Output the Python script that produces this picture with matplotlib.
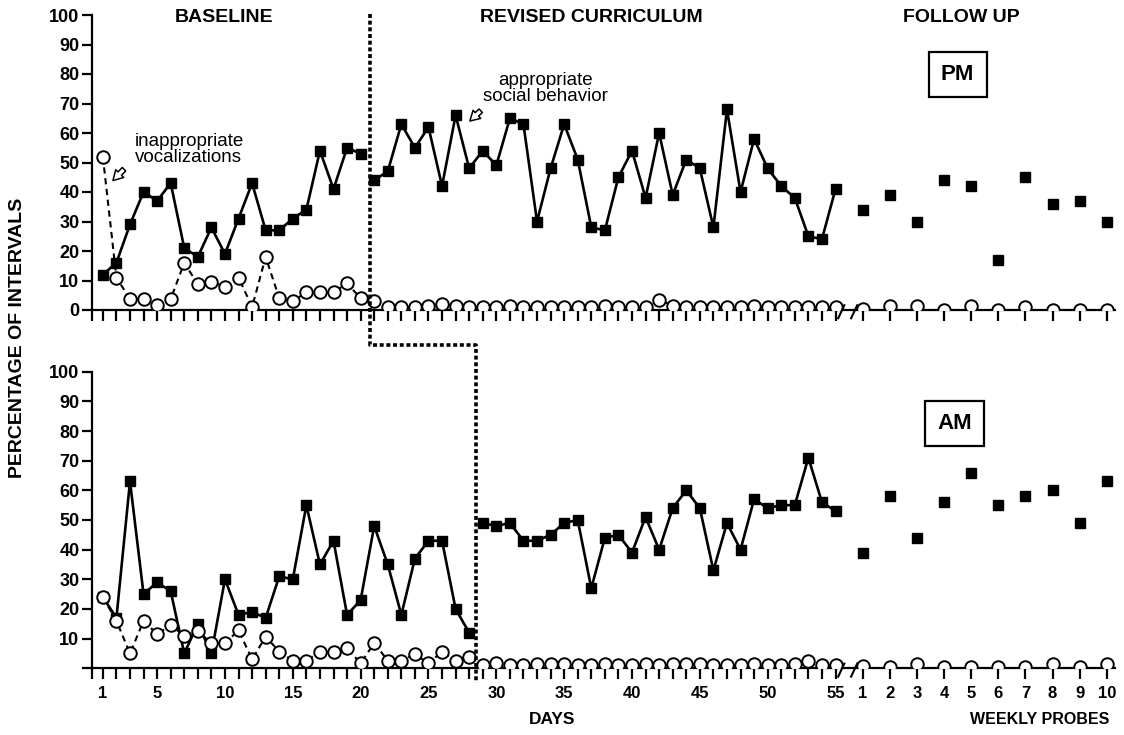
import matplotlib
matplotlib.use('Agg')
import matplotlib.pyplot as plt
from matplotlib import font_manager
from matplotlib.lines import Line2D

# ---------------- data ----------------
days = list(range(1, 56))
probes = list(range(1, 11))
pm_baseline_days = 20
am_baseline_days = 28

pm_social = [12, 16, 29, 40, 37, 43, 21, 18, 28, 19, 31, 43, 27, 27, 31, 34, 54, 41, 55, 53,
             44, 47, 63, 55, 62, 42, 66, 48, 54, 49, 65, 63, 30, 48, 63, 51, 28, 27, 45, 54,
             38, 60, 39, 51, 48, 28, 68, 40, 58, 48, 42, 38, 25, 24, 41]
pm_vocal = [52, 11, 3.7, 3.7, 1.7, 3.7, 16, 8.7, 9.6, 7.9, 11, 1, 18, 4, 3, 6, 6, 6, 9, 4,
            3, 1, 1, 1, 1.3, 2, 1.3, 1, 1, 1, 1.3, 1, 1, 1, 1, 1, 1, 1.3, 1, 1,
            1, 3.5, 1.5, 1, 1, 1, 1, 1, 1.3, 1, 1, 1, 1, 1, 1]
pm_probe_social = [34, 39, 30, 44, 42, 17, 45, 36, 37, 30]
pm_probe_vocal = [0.5, 1.2, 1.2, 0, 1.2, 0, 1, 0, 0, 0]

am_social = [24, 17, 63, 25, 29, 26, 5, 15, 5, 30, 18, 19, 17, 31, 30, 55, 35, 43, 18, 23,
             48, 35, 18, 37, 43, 43, 20, 12,
             49, 48, 49, 43, 43, 45, 49, 50, 27, 44, 45, 39, 51, 40, 54, 60, 54, 33, 49, 40,
             57, 54, 55, 55, 71, 56, 53]
am_vocal = [24, 16, 5, 16, 11.5, 14.5, 11, 12.5, 8.5, 8.5, 12.8, 3, 10.7, 5.6, 2.6, 2.6, 5.6, 5.6,
            6.7, 1.7, 8.5, 2.6, 2.6, 4.7, 1.7, 5.6, 2.6, 3.9,
            1, 1.8, 1, 1, 1.3, 1.3, 1.3, 1, 1, 1.3, 1, 1, 1.3, 1, 1.3, 1.3, 1.5, 1, 1, 1,
            1.3, 1, 1, 1.3, 2.5, 1, 1]
am_probe_social = [39, 58, 44, 56, 66, 55, 58, 60, 49, 63]
am_probe_vocal = [0.7, 0.3, 1.4, 0.3, 0.3, 0.3, 0.3, 1.3, 0.3, 1.4]

y_ticks = list(range(0, 101, 10))
day_labels = [1, 5, 10, 15, 20, 25, 30, 35, 40, 45, 50, 55]
phase_titles = ["BASELINE", "REVISED CURRICULUM", "FOLLOW UP"]

# ---------------- fonts ----------------
names = {f.name for f in font_manager.fontManager.ttflist}
BASE = 'Liberation Sans'
NARROW = 'Liberation Sans Narrow' if 'Liberation Sans Narrow' in names else BASE
plt.rcParams['font.family'] = [BASE, 'DejaVu Sans']

W, H = 1124, 735
fig = plt.figure(figsize=(W / 100, H / 100), dpi=100)

def fx(px):
    return px / W

def fy(py):
    return 1 - py / H

left, right = fx(92), fx(1115)
ax_top = fig.add_axes([left, fy(310), right - left, fy(15) - fy(310)])
ax_bot = fig.add_axes([left, fy(668.3), right - left, fy(371.7) - fy(668.3)])

probe_x = [55 + 2 * p for p in probes]
XMIN, XMAX = 0.2, 75.6

sq_kw = dict(marker='s', ms=6.5, mfc='black', mec='black', color='black', lw=1.9)
ci_kw = dict(marker='o', ms=9, mfc='white', mec='black', mew=1.4, color='black',
             lw=1.5, linestyle=(0, (3, 2.2)))


def draw_panel(ax, social, vocal, p_social, p_vocal, nbase, bottom):
    ax.plot(days[:nbase], social[:nbase], zorder=3, **sq_kw)
    ax.plot(days[nbase:], social[nbase:], zorder=3, **sq_kw)
    ax.plot(days[:nbase], vocal[:nbase], zorder=4, **ci_kw)
    ax.plot(days[nbase:], vocal[nbase:], zorder=4, **ci_kw)
    ax.plot(probe_x, p_social, linestyle='none', marker='s', ms=6.5, color='black', zorder=3)
    ax.plot(probe_x, p_vocal, linestyle='none', marker='o', ms=9, mfc='white',
            mec='black', mew=1.4, zorder=4)

    ax.set_xlim(XMIN, XMAX)
    ax.set_ylim(0, 100)
    for s in ['top', 'right']:
        ax.spines[s].set_visible(False)
    for s in ['left', 'bottom']:
        ax.spines[s].set_linewidth(1.6)
    ax.set_yticks(y_ticks)
    if bottom:
        ax.set_yticklabels(['' if v == 0 else str(v) for v in y_ticks])
    else:
        ax.set_yticklabels([str(v) for v in y_ticks])
    ax.tick_params(axis='y', direction='out', length=7, width=1.6, pad=2)
    for lab in ax.get_yticklabels():
        lab.set_fontweight('bold')
        lab.set_family([NARROW, BASE])
        lab.set_fontsize(13)

    xt = days + probe_x
    ax.set_xticks([XMIN] + xt)
    if bottom:
        labs = [''] + [str(d) if d in day_labels else '' for d in days] + [str(p) for p in probes]
    else:
        labs = [''] * (len(xt) + 1)
    ax.set_xticklabels(labs)
    ax.tick_params(axis='x', direction='out', length=8, width=1.6, pad=5)
    for lab in ax.get_xticklabels():
        lab.set_fontweight('bold')
        lab.set_family([NARROW, BASE])
        lab.set_fontsize(12)

    # axis break marks
    for x0 in (55.2, 56.15):
        ax.add_line(Line2D([x0, x0 + 0.45], [-2.8, 1.6], color='black', lw=1.5,
                           clip_on=False, zorder=6))


draw_panel(ax_top, pm_social, pm_vocal, pm_probe_social, pm_probe_vocal,
           pm_baseline_days, False)
draw_panel(ax_bot, am_social, am_vocal, am_probe_social, am_probe_vocal,
           am_baseline_days, True)

# phase titles
title_x = [9.9, 37.0, 64.3]
for t, x in zip(phase_titles, title_x):
    ax_top.text(x, 99.0, t, ha='center', va='center', fontsize=14, fontweight='bold')

# session boxes
box = dict(boxstyle='square,pad=0.55', fc='white', ec='black', lw=1.6)
ax_top.text(64.0, 79.8, 'PM', ha='center', va='center', fontsize=16, fontweight='bold', bbox=box)
ax_bot.text(63.8, 82.5, 'AM', ha='center', va='center', fontsize=16, fontweight='bold', bbox=box)

# annotations
arrow = dict(arrowstyle='simple,head_length=0.7,head_width=0.8,tail_width=0.35',
             fc='white', ec='black', lw=1.1)
ax_top.text(3.35, 54.5, 'inappropriate\nvocalizations', ha='left', va='center',
            fontsize=13.5, linespacing=0.95)
ax_top.annotate('', xy=(1.6, 43.2), xytext=(2.7, 48.4), arrowprops=arrow)
ax_top.text(33.6, 75, 'appropriate\nsocial behavior', ha='center', va='center',
            fontsize=13.5, linespacing=0.95)
ax_top.annotate('', xy=(27.9, 63.4), xytext=(29.0, 68.2), arrowprops=arrow)

# axis titles
fig.text(fx(18), fy(338), 'PERCENTAGE OF INTERVALS', rotation=90, ha='center', va='center',
         fontsize=14, fontweight='bold', family=[NARROW, BASE])
fig.text(fx(552), fy(719), 'DAYS', ha='center', va='center', fontsize=12.5,
         fontweight='bold', family=[NARROW, BASE])
fig.text(fx(1040), fy(719), 'WEEKLY PROBES', ha='center', va='center', fontsize=11.5,
         fontweight='bold', family=[NARROW, BASE])

# phase change line (staggered)
inv = fig.transFigure.inverted()
xt_disp = ax_top.transData.transform((20.7, 100))
xb_disp = ax_bot.transData.transform((28.5, 0))
x1 = inv.transform(xt_disp)[0]
x2 = inv.transform(xb_disp)[0]
ytop = fy(14)
ymid = fy(345)
ybot = fy(683)
fig.add_artist(Line2D([x1, x1, x2, x2], [ytop, ymid, ymid, ybot], transform=fig.transFigure,
                      color='black', lw=2.6, linestyle=(0, (1.1, 0.75)), zorder=10))

fig.savefig('out.png', dpi=100)
